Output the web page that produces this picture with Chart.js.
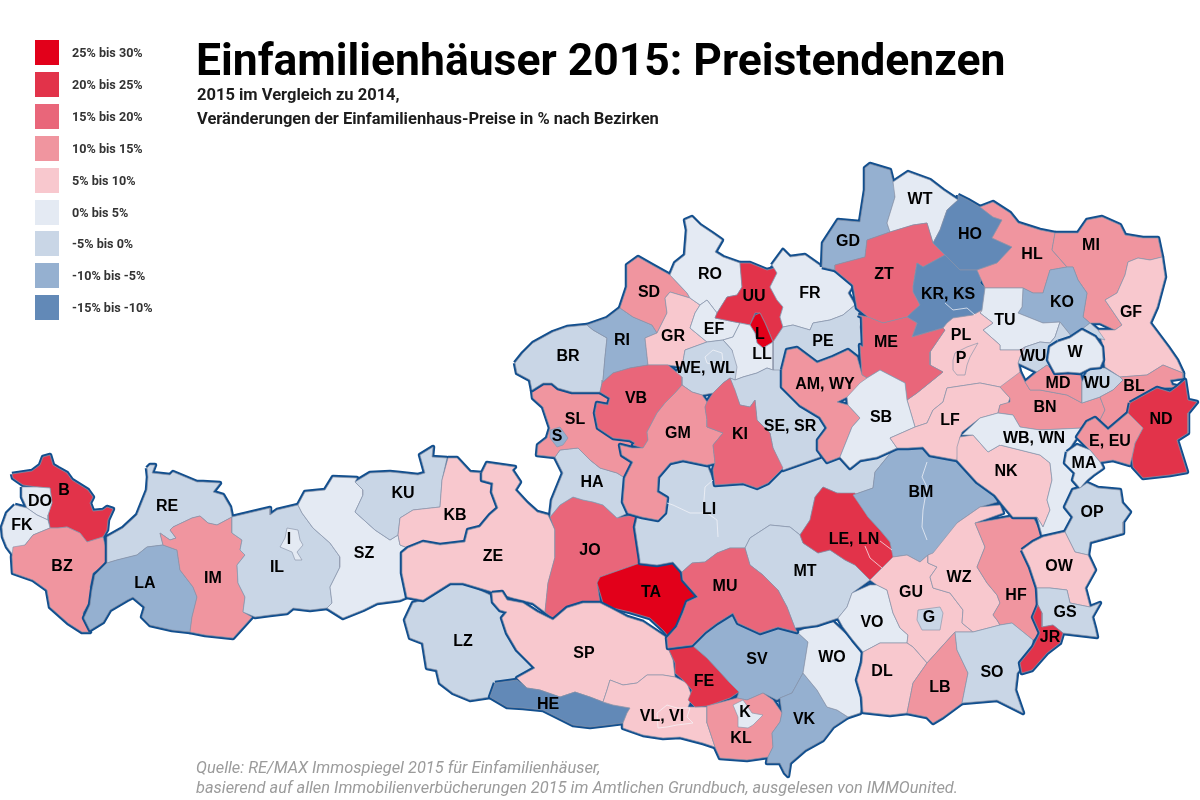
<!DOCTYPE html>
<html lang="de">
<head>
<meta charset="utf-8">
<title>Einfamilienhäuser 2015: Preistendenzen</title>
<script src="https://cdn.jsdelivr.net/npm/chart.js@4"></script>
<style>
    body { margin: 0; background: #fff; font-family: Roboto, sans-serif; }
    #page { position: relative; width: 1200px; height: 800px; overflow: hidden; }
    #map { position: absolute; left: 0; top: 0; }
    h1 { position: absolute; left: 196px; top: 33px; margin: 0; font-size: 44.45px; line-height: 54px; font-weight: 700; color: #000; white-space: nowrap; }
    .sub { position: absolute; left: 197px; margin: 0; font-size: 16.5px; line-height: 20px; font-weight: 700; color: #1c1c1c; white-space: nowrap; }
    .src { position: absolute; left: 196px; margin: 0; font-size: 16.4px; line-height: 20px; font-style: italic; color: #9b9b9b; white-space: nowrap; }
    .swatch { position: absolute; left: 35px; width: 24px; height: 25px; }
    .key { position: absolute; left: 72px; font-size: 12.6px; line-height: 14px; font-weight: 700; color: #333; white-space: nowrap; }
</style>
</head>
<body>
<div id="page">
    <canvas id="map" width="1200" height="800"></canvas>
    <h1>Einfamilienhäuser 2015: Preistendenzen</h1>
    <p class="sub" style="top:85px">2015 im Vergleich zu 2014,</p>
    <p class="sub" style="top:109px">Veränderungen der Einfamilienhaus-Preise in % nach Bezirken</p>
    <p class="src" style="top:758px">Quelle: RE/MAX Immospiegel 2015 für Einfamilienhäuser,</p>
    <p class="src" style="top:778px">basierend auf allen Immobilienverbücherungen 2015 im Amtlichen Grundbuch, ausgelesen von IMMOunited.</p>
</div>
<script>
// Preisklassen (untere Grenze in %)
const bandLows = [25, 20, 15, 10, 5, 0, -5, -10, -15];
const bandLabels = ['25% bis 30%', '20% bis 25%', '15% bis 20%', '10% bis 15%', '5% bis 10%', '0% bis 5%', '-5% bis 0%', '-10% bis -5%', '-15% bis -10%'];
const bandColors = ['#e2001a', '#e2334a', '#e9667a', '#f0959f', '#f8c8ce', '#e4eaf3', '#c9d6e6', '#95b0d0', '#6289b7'];

// Bezirke, nach Bundesland gruppiert; die Reihenfolge ist auch die Zeichenfolge
const codes = [
    'B', 'DO', 'FK', 'BZ',
    'RE', 'LA', 'IM', 'IL', 'I', 'SZ', 'KU', 'KB',
    'LZ',
    'ZE', 'JO', 'TA', 'HA', 'SL', 'S',
    'SP', 'HE', 'VL, VI', 'FE', 'SV', 'KL', 'K', 'VK', 'WO',
    'LI', 'MT', 'MU', 'LE, LN', 'BM', 'VO', 'GU', 'G', 'WZ', 'HF', 'DL', 'LB', 'SO',
    'BR', 'RI', 'SD', 'GR', 'RO', 'EF', 'UU', 'L', 'FR', 'PE', 'LL', 'WE, WL', 'SE, SR', 'VB', 'GM', 'KI',
    'GD', 'WT', 'ZT', 'HO', 'KR, KS', 'HL', 'MI', 'GF', 'KO', 'TU', 'WU', 'PL', 'P', 'ME', 'AM, WY', 'SB', 'LF', 'BN', 'MD', 'WU', 'BL', 'NK', 'WB, WN',
    'W',
    'ND', 'E, EU', 'MA', 'OP', 'OW', 'GS', 'JR'
];
const states = [
    0, 0, 0, 0,
    1, 1, 1, 1, 1, 1, 1, 1,
    2,
    3, 3, 3, 3, 3, 3,
    4, 4, 4, 4, 4, 4, 4, 4, 4,
    5, 5, 5, 5, 5, 5, 5, 5, 5, 5, 5, 5, 5,
    6, 6, 6, 6, 6, 6, 6, 6, 6, 6, 6, 6, 6, 6, 6, 6,
    7, 7, 7, 7, 7, 7, 7, 7, 7, 7, 7, 7, 7, 7, 7, 7, 7, 7, 7, 7, 7, 7, 7,
    8,
    9, 9, 9, 9, 9, 9, 9
];
const changes = [
    20, 0, 0, 10,
    -5, -10, 10, -5, 0, 0, -5, 5,
    -5,
    5, 15, 25, -5, 10, -10,
    5, -15, 5, 20, -10, 10, 0, -10, 0,
    -5, -5, 15, 20, -10, 0, 5, -5, 5, 10, 5, 10, -5,
    -5, -10, 10, 5, 0, 0, 20, 25, 0, -5, 0, -5, -5, 15, 10, 15,
    -10, 0, 15, -15, -15, 10, 10, 5, -10, 0, -5, 5, 5, 15, 10, 0, 5, 10, 10, -5, 10, 5, 0,
    0,
    20, 10, 0, -5, 5, -5, 20
];
const labelX = [
    64, 40, 22, 62,
    167, 145, 213, 277, 289, 364, 403, 455,
    463,
    493, 590, 651, 592, 575, 557,
    584, 548, 662, 704, 757, 741, 745, 804, 832,
    709, 805, 725, 854, 921, 872, 911, 929, 959, 1016, 882, 940, 992,
    568, 622, 649, 673, 710, 714, 754, 760, 810, 823, 762, 705, 790, 636, 678, 740,
    848, 920, 884, 970, 948, 1032, 1091, 1131, 1062, 1005, 1033, 961, 961, 886, 825, 881, 950, 1045, 1058, 1097, 1134, 1006, 1034,
    1075,
    1161, 1110, 1084, 1092, 1059, 1065, 1050
];
const labelY = [
    491, 502, 526, 567,
    507, 584, 579, 568, 540, 554, 494, 516,
    642,
    557, 551, 593, 483, 420, 437,
    654, 705, 717, 682, 660, 739, 713, 720, 658,
    510, 572, 587, 540, 493, 623, 593, 618, 578, 596, 672, 688, 673,
    357, 341, 293, 337, 275, 330, 297, 335, 294, 342, 355, 369, 427, 399, 434, 435,
    242, 200, 275, 235, 295, 255, 246, 313, 303, 321, 357, 336, 359, 343, 385, 418, 421, 408, 384, 384, 387, 472, 439,
    353,
    420, 442, 464, 513, 567, 613, 638
];

// Umrisse in Kartenkoordinaten (x, y, x, y, ...)
const outlines = [
    [12,474,32,471,40,465,43,457,50,455,53,465,58,468,67,473,72,480,80,485,88,490,93,497,90,503,93,511,103,510,107,507,113,509,108,520,107,530,103,537,87,542,80,533,67,527,58,528,50,528,48,515,52,503,50,488,37,487,23,485,13,478],
    [22,487,37,487,50,488,52,503,48,515,48,520,37,515,27,508,22,497],
    [15,505,27,508,37,515,48,520,50,528,33,535,25,545,13,555,7,547,3,537,2,527,7,513],
    [13,547,25,545,33,535,50,528,58,528,67,527,80,533,87,542,103,537,107,553,107,563,93,573,90,587,92,597,83,613,85,623,90,632,82,632,68,623,50,607,47,590,33,580,13,573,12,557],
    [147,468,150,465,155,465,152,473,170,475,173,472,197,482,203,482,220,483,213,492,223,495,230,507,232,517,217,525,208,523,200,516,192,518,173,527,170,530,176,538,170,540,160,533,163,545,147,547,137,555,117,560,107,563,107,537,123,528,137,515,147,490,148,477],
    [147,547,163,545,177,550,180,570,193,587,197,597,192,617,190,632,172,630,150,625,142,617,145,607,133,597,127,600,110,610,103,622,90,630,84,618,90,605,92,590,95,575,107,563,117,560,137,555],
    [173,527,192,518,200,516,208,523,217,525,232,517,232,533,242,540,240,550,245,555,237,565,238,583,245,597,243,612,252,617,243,627,233,638,205,635,190,632,192,617,197,597,193,587,180,570,177,550,163,545,160,533,170,540,176,538,170,530],
    [232,517,253,512,270,508,270,515,277,510,298,505,302,513,313,528,330,543,340,557,340,567,330,587,332,603,327,608,310,610,293,608,287,613,270,615,255,617,243,612,245,597,238,583,237,565,245,555,240,550,242,540,232,533],
    [287,528,298,530,300,540,303,545,297,552,302,560,295,560,292,552,280,547,285,538],
    [298,505,305,492,325,490,333,477,357,478,355,482,363,490,363,495,355,512,375,530,390,540,398,535,400,545,408,548,402,553,402,573,407,597,400,600,377,603,363,610,343,618,327,608,332,603,330,587,340,567,340,557,330,543,313,528,302,513],
    [355,482,370,473,390,472,400,473,418,475,425,473,420,455,433,447,432,457,447,458,442,480,440,507,413,510,400,518,398,535,390,540,375,530,355,512,363,495,363,490],
    [448,458,457,458,470,472,482,473,482,480,493,483,492,492,498,508,490,515,480,527,468,530,465,542,440,545,423,542,408,548,400,545,398,535,400,518,413,510,440,507,442,480],
    [423,600,430,593,440,585,450,583,463,583,473,587,490,595,493,602,500,610,507,612,502,618,507,633,517,650,535,668,517,678,495,683,490,697,470,700,453,693,440,683,437,670,427,668,423,643,410,638,405,620,413,603],
    [482,473,487,463,515,467,512,470,520,482,515,490,527,503,537,512,548,515,555,530,555,557,548,583,545,612,533,603,513,598,493,592,463,583,450,583,423,600,407,597,402,573,402,553,408,548,423,542,440,545,465,542,468,530,480,527,490,515,498,508,492,492,493,483,482,480],
    [550,517,560,505,573,497,583,500,593,502,603,505,617,518,638,514,635,527,640,560,640,563,620,570,600,577,597,583,600,603,583,605,573,613,555,620,545,612,548,583,555,557,555,530],
    [597,583,600,577,640,563,657,565,673,562,682,572,683,580,698,597,687,602,683,613,677,627,670,638,663,630,650,618,630,612,613,608,603,603],
    [560,450,578,448,590,460,600,468,617,473,625,478,623,502,628,513,617,518,603,505,593,502,583,500,573,497,560,505,550,517,552,500,563,473,555,457],
    [532,390,543,383,552,383,558,388,572,392,600,392,610,398,608,405,597,403,595,413,598,428,613,438,630,440,635,443,632,448,620,445,622,455,633,462,625,478,617,473,600,468,590,460,578,448,560,450,555,457,537,455,538,445,547,438,550,428,543,407,533,398],
    [550,430,560,427,568,438,563,445,557,447,550,438],
    [492,593,502,592,507,600,523,603,537,612,553,620,567,608,583,603,600,603,610,608,627,617,643,622,667,638,668,648,673,660,675,677,663,675,647,675,637,683,623,685,610,680,607,690,603,702,590,697,575,692,560,697,540,690,527,688,517,678,535,668,517,650,507,633,502,618,507,612,500,610,493,602],
    [495,683,517,680,527,688,540,690,560,697,575,692,590,697,603,702,613,705,630,708,627,713,623,723,607,725,590,727,573,725,557,717,543,710,523,708,507,707,490,697],
    [610,680,623,685,637,683,647,675,663,675,675,677,687,683,692,697,688,707,707,707,707,723,715,747,703,743,680,737,663,738,643,735,623,728,623,723,627,713,630,708,613,705,603,702,607,690],
    [668,648,692,645,707,658,720,672,730,683,739,692,730,698,708,706,695,707,688,700,692,690,683,680,675,673,675,663],
    [692,645,705,632,717,623,733,613,738,623,760,633,778,627,797,632,808,642,803,673,792,693,780,698,777,700,763,693,747,700,737,698,739,692,730,683,720,672,707,658],
    [707,706,737,698,747,700,763,693,773,700,782,713,780,722,772,733,773,747,768,757,747,760,720,758,715,747,707,723],
    [733,705,743,700,748,707,752,713,763,715,753,725,748,728,738,727,738,717],
    [780,698,792,693,803,673,817,690,827,707,837,710,848,717,833,727,823,740,805,750,790,763,788,776,785,773,780,763,767,763,768,757,773,747,772,733,780,722,782,713],
    [803,673,808,642,797,632,817,623,833,622,847,635,862,653,857,677,863,697,862,707,860,713,848,717,837,710,827,707,817,690],
    [658,477,670,463,683,460,707,465,715,485,743,483,757,488,768,483,783,470,820,457,827,462,840,455,850,468,860,460,877,457,893,450,875,472,873,488,853,495,837,493,823,487,815,497,810,520,800,535,790,527,770,525,750,538,745,548,730,548,717,553,705,562,692,563,682,572,673,562,657,565,640,563,640,560,635,527,638,514,658,520,665,513,667,498,657,492],
    [750,538,770,525,790,527,800,535,803,543,818,553,830,550,845,560,855,565,870,580,852,593,847,607,838,618,817,625,795,628,787,607,778,590,763,575,750,565,745,548],
    [682,572,692,563,705,562,717,553,730,548,745,548,750,565,763,575,778,590,787,607,795,628,797,632,778,627,760,633,738,623,733,613,717,623,705,632,692,645,668,648,667,638,677,627,683,613,687,602,698,597,683,580],
    [800,535,810,520,815,497,823,487,837,493,855,493,868,517,880,530,890,542,895,557,882,568,870,580,855,565,845,560,830,550,818,553,803,543],
    [853,495,873,488,875,472,893,450,910,443,923,447,930,455,957,460,977,482,995,495,997,502,980,507,957,523,947,540,945,550,928,555,920,562,907,555,893,557,890,542,880,530,868,517],
    [838,618,847,607,852,593,870,585,877,585,887,590,893,613,900,628,908,635,907,643,880,643,863,652,853,640,843,627],
    [870,580,893,557,907,555,920,562,928,555,928,563,937,567,930,577,933,588,950,593,963,610,962,623,973,632,955,632,945,643,927,663,913,647,907,643,908,635,900,628,893,613,887,590,877,585],
    [918,610,940,607,943,613,940,630,922,630,917,620],
    [928,555,933,553,957,523,980,507,1000,505,1003,513,975,523,985,547,977,567,987,583,997,595,1000,603,993,615,997,620,1000,625,973,632,962,623,963,610,950,593,933,588,930,577,937,567,928,563],
    [975,523,993,520,1010,517,1032,515,1042,535,1032,542,1022,550,1030,567,1037,588,1038,605,1033,617,1040,633,1033,640,1018,628,1012,623,1000,625,997,620,993,615,1000,603,997,595,987,583,977,567,985,547],
    [863,652,880,643,907,643,913,647,927,663,913,683,907,713,890,715,863,712,862,697,857,680,862,663],
    [927,663,945,643,955,632,957,650,968,673,962,703,943,717,933,723,927,717,907,713,913,683],
    [955,632,973,632,1000,625,1012,623,1033,640,1030,657,1017,673,1015,690,1023,713,997,700,962,703,968,673,957,650],
    [515,363,523,353,533,343,553,332,567,327,587,325,593,330,607,338,605,357,603,380,602,383,600,392,572,392,558,388,552,383,543,383,532,390,530,380,517,373],
    [587,325,607,318,620,308,633,317,652,325,657,333,645,338,648,365,630,368,613,373,602,383,603,380,605,357,607,338,593,330],
    [620,308,627,287,627,265,638,257,652,265,670,275,687,293,690,298,670,292,665,298,667,313,657,333,652,325,633,317],
    [670,292,690,298,700,305,695,313,690,328,707,342,685,350,682,367,668,365,648,365,645,338,657,333,667,313,665,298],
    [670,275,675,263,685,255,687,230,685,220,692,217,700,225,712,233,722,240,715,252,723,257,740,263,742,287,737,295,727,297,717,313,707,300,700,305,690,298,687,293],
    [700,305,707,300,717,313,715,318,740,323,733,337,723,340,707,342,690,328,695,313],
    [740,263,750,263,767,270,775,268,777,273,770,287,777,300,783,307,780,317,783,327,773,342,767,327,760,313,755,313,750,325,740,323,715,318,717,313,727,297,737,295,742,287],
    [755,315,760,313,765,323,773,342,763,348,757,343,755,333,750,325],
    [772,265,783,250,790,257,805,255,822,267,835,270,853,285,848,293,855,305,843,315,830,320,813,323,810,330,793,325,783,327,780,317,783,307,777,300,770,287,777,273],
    [783,327,793,325,810,330,813,323,830,320,843,315,855,305,862,317,860,327,863,347,857,357,848,350,833,357,817,363,797,348,787,350,782,372,773,370,773,342],
    [723,340,733,337,740,323,750,325,755,333,757,343,763,348,773,342,773,370,767,368,757,373,743,377,735,380,732,350],
    [685,350,707,342,723,340,732,350,737,367,735,380,730,378,723,383,713,393,702,395,692,392,682,385,675,373,682,367],
    [735,380,743,377,757,373,767,368,773,370,782,370,782,387,800,405,820,417,827,428,818,440,820,457,783,470,773,448,770,433,757,420,755,400,750,407,740,405,730,378],
    [600,392,602,383,613,373,630,368,648,365,668,365,682,377,682,385,675,393,665,403,657,413,647,432,648,440,643,448,633,445,635,443,630,440,613,438,598,428,595,413,597,403,608,405,610,398],
    [675,393,682,385,692,392,702,395,707,402,705,407,707,420,707,427,723,433,713,445,715,463,707,465,683,460,670,463,658,477,657,492,667,498,665,513,658,520,642,517,628,513,623,502,625,478,633,462,622,455,620,445,632,448,643,448,648,440,647,432,657,413,665,403],
    [707,402,713,393,723,383,730,378,735,390,740,405,750,407,755,400,757,420,770,433,773,448,783,468,768,483,757,488,743,483,715,485,713,470,715,463,713,445,723,433,707,427,707,420,705,407],
    [822,267,823,243,838,220,860,222,865,190,865,168,870,164,890,170,895,190,895,197,887,223,890,232,867,240,865,257,835,265,835,270],
    [893,182,908,172,930,180,943,190,958,200,947,210,940,230,933,243,927,223,913,225,890,232,887,223,895,197],
    [835,265,865,257,867,240,890,232,913,225,927,223,933,243,945,255,923,267,917,263,913,287,920,305,907,317,883,323,868,317,857,308,853,285,835,270],
    [958,195,968,200,980,207,993,217,1002,220,992,238,1012,247,1003,257,997,263,977,270,960,270,945,255,933,243,940,230,947,210,958,200],
    [917,263,923,267,945,255,960,270,977,270,982,277,980,283,985,288,982,310,973,315,953,318,947,323,943,328,912,337,917,323,907,317,920,305,913,292,913,287],
    [980,207,993,202,1010,213,1018,223,1040,230,1055,233,1052,250,1067,267,1050,270,1043,293,1033,293,1023,288,985,288,980,277,977,270,997,263,1012,247,992,238,1002,220,993,217],
    [1055,233,1078,233,1087,220,1102,217,1120,225,1125,235,1143,238,1158,238,1162,257,1150,260,1138,258,1128,262,1125,275,1117,293,1105,300,1122,325,1115,330,1100,323,1090,323,1083,317,1087,293,1078,280,1073,267,1067,267,1052,250],
    [1128,262,1138,258,1150,260,1162,257,1165,277,1157,307,1150,323,1168,347,1177,360,1183,373,1163,365,1147,375,1120,377,1105,367,1103,345,1098,330,1115,330,1122,325,1105,300,1117,293,1125,275],
    [1023,288,1033,293,1043,293,1050,270,1067,267,1073,267,1078,280,1087,293,1083,317,1090,323,1077,333,1072,337,1060,322,1043,323,1018,313,1022,307],
    [985,288,1023,288,1022,307,1018,313,1043,323,1060,322,1055,337,1050,343,1040,342,1025,347,1020,350,1000,350,1000,345,983,330,993,323,980,313,982,310],
    [1020,357,1025,347,1040,342,1050,343,1055,337,1060,322,1072,337,1077,333,1090,323,1098,330,1105,340,1095,337,1082,330,1070,340,1058,345,1050,347,1048,360,1055,373,1047,365,1037,372,1018,363],
    [945,330,930,352,930,365,943,372,917,393,907,400,915,427,927,423,933,410,943,402,947,388,980,383,1000,387,1010,398,1020,372,1018,363,1020,357,1025,347,1020,350,1000,350,1000,345,983,330,993,323,980,313,982,310,973,315,953,318,947,323,943,328],
    [953,360,955,353,967,347,978,343,970,357,967,365,965,375,957,375,953,370],
    [858,315,868,317,883,323,907,317,917,323,912,337,943,328,945,330,930,352,930,365,943,372,917,393,907,400,905,383,880,370,867,378,862,375,860,345,863,347,862,317],
    [782,370,787,350,797,348,817,363,833,357,848,350,857,357,862,375,867,378,855,393,847,397,837,402,848,405,860,418,852,427,840,457,827,462,818,450,818,440,827,428,820,417,800,405,782,387],
    [847,397,860,383,867,378,880,370,905,383,907,400,915,427,890,438,897,448,877,457,860,460,850,468,840,457,852,427,860,418,848,405],
    [947,388,980,383,1000,387,1010,398,1008,403,1000,405,998,413,980,418,962,432,960,437,957,460,930,455,923,447,908,448,897,448,890,438,915,427,927,423,933,410,943,402],
    [1000,387,1020,372,1025,382,1030,390,1040,390,1067,395,1082,403,1100,397,1105,410,1100,420,1083,428,1040,430,1020,427,1013,415,998,413,1000,405,1010,402,1010,398],
    [1025,382,1037,372,1047,365,1055,373,1068,372,1080,373,1082,382,1082,403,1067,395,1040,390,1030,390],
    [1082,382,1088,370,1095,368,1105,368,1120,377,1123,380,1113,390,1100,397,1082,403],
    [1100,397,1113,390,1123,380,1120,377,1147,375,1163,365,1183,373,1183,378,1170,380,1172,385,1180,387,1157,388,1130,403,1128,413,1108,430,1100,420,1105,410],
    [957,460,957,447,960,437,973,435,988,452,1000,445,1040,455,1050,463,1052,480,1047,500,1050,510,1043,527,1037,517,1013,517,1003,505,995,495,977,482],
    [962,435,980,418,998,413,1013,415,1020,427,1040,430,1083,428,1077,437,1067,452,1065,463,1075,473,1073,480,1080,488,1073,490,1065,507,1073,517,1065,532,1043,537,1042,535,1037,517,1043,527,1050,510,1047,500,1052,480,1050,463,1040,455,1000,445,988,452,973,435],
    [1058,342,1070,338,1082,330,1095,337,1102,347,1103,360,1100,367,1090,368,1080,373,1068,372,1055,373,1048,360,1050,347],
    [1130,403,1157,388,1170,392,1177,387,1185,380,1188,400,1197,402,1188,413,1188,433,1177,440,1187,472,1170,475,1143,478,1133,467,1132,457,1135,443,1143,428,1128,413],
    [1108,430,1128,413,1143,428,1135,443,1132,457,1130,465,1113,460,1100,462,1090,450,1077,437,1087,422,1095,418],
    [1067,452,1077,445,1090,450,1100,462,1103,468,1093,475,1087,480,1080,488,1073,480,1075,473,1065,463],
    [1080,488,1087,483,1098,488,1120,490,1122,503,1130,512,1123,522,1123,533,1090,542,1088,555,1075,552,1065,532,1073,517,1065,507,1073,490],
    [1022,550,1033,542,1043,537,1065,532,1075,552,1088,555,1095,570,1085,588,1090,607,1070,603,1067,590,1050,588,1037,588,1030,567],
    [1037,588,1050,588,1067,590,1070,603,1090,607,1100,603,1092,617,1095,628,1097,637,1080,635,1063,633,1053,625,1042,627,1042,613,1038,605],
    [1038,605,1042,613,1042,627,1053,625,1063,633,1060,643,1047,653,1032,670,1022,673,1020,663,1033,647,1040,633,1033,617]
];

// Innere Trennlinien zusammengelegter Bezirke
const innerLines = [
    [657,713,667,705,677,708,690,708,687,717,693,723,677,725,667,727,658,728,657,713],
    [705,357,713,350,722,353,723,362,715,365,707,363,705,357],
    [945,303,953,310,967,308,975,315],
    [865,546,870,558,882,568],
    [880,541,892,550],
    [927,462,922,477,927,487,923,510,922,527,927,540],
    [667,503,673,505,690,513,707,513,717,520,718,537],
    [703,513,705,487,713,480],
    [1000,445,1007,437,1013,440]
];

function toPoints(flat) {
    const points = [];
    for (let i = 0; i < flat.length; i += 2) {
        points.push({ x: flat[i], y: flat[i + 1] });
    }
    return points;
}

function closed(flat) {
    return toPoints(flat.concat(flat.slice(0, 2)));
}

const stateLine = '#124f8e';
const thinLine = 'rgba(140,150,170,0.85)';

// Pro Bundesland: erst dicke Umrisse, dann die Flächen darüber,
// so bleibt die dunkle Linie nur an der Landesgrenze sichtbar
const datasets = [];
[...new Set(states)].forEach(state => {
    outlines.forEach((outline, i) => {
        if (states[i] !== state) return;
        datasets.push({
            data: closed(outline),
            showLine: true,
            fill: false,
            borderColor: stateLine,
            borderWidth: 4.5,
            borderJoinStyle: 'round',
            pointRadius: 0
        });
    });
    outlines.forEach((outline, i) => {
        if (states[i] !== state) return;
        datasets.push({
            data: closed(outline),
            showLine: true,
            fill: 'shape',
            backgroundColor: bandColors[bandLows.indexOf(changes[i])],
            borderColor: thinLine,
            borderWidth: 0.8,
            pointRadius: 0
        });
    });
});
innerLines.forEach(line => {
    datasets.push({
        data: toPoints(line),
        showLine: true,
        fill: false,
        borderColor: 'rgba(245,245,250,0.8)',
        borderWidth: 0.9,
        pointRadius: 0
    });
});

// Chart.js zeichnet den ersten Datensatz zuoberst
datasets.reverse();

const districtLabels = {
    id: 'districtLabels',
    afterDatasetsDraw(chart) {
        const { ctx, scales } = chart;
        ctx.save();
        ctx.font = 'bold 16px "Liberation Sans", Arial, sans-serif';
        ctx.fillStyle = '#000';
        ctx.textAlign = 'center';
        ctx.textBaseline = 'middle';
        codes.forEach((code, i) => {
            ctx.fillText(code, scales.x.getPixelForValue(labelX[i]), scales.y.getPixelForValue(labelY[i]));
        });
        ctx.restore();
    }
};

new Chart(document.getElementById('map'), {
    type: 'scatter',
    data: { datasets },
    options: {
        responsive: false,
        animation: false,
        events: [],
        layout: { padding: 0 },
        plugins: {
            legend: { display: false },
            tooltip: { enabled: false }
        },
        scales: {
            x: { type: 'linear', display: false, min: 0, max: 1200 },
            y: { type: 'linear', display: false, min: 0, max: 800, reverse: true }
        }
    },
    plugins: [districtLabels]
});

// Legende links oben
const page = document.getElementById('page');
bandLabels.forEach((label, i) => {
    const swatch = document.createElement('div');
    swatch.className = 'swatch';
    swatch.style.top = (40 + i * 31.9) + 'px';
    swatch.style.background = bandColors[i];
    page.appendChild(swatch);

    const key = document.createElement('div');
    key.className = 'key';
    key.style.top = (46 + i * 31.9) + 'px';
    key.textContent = label;
    page.appendChild(key);
});
</script>
</body>
</html>
